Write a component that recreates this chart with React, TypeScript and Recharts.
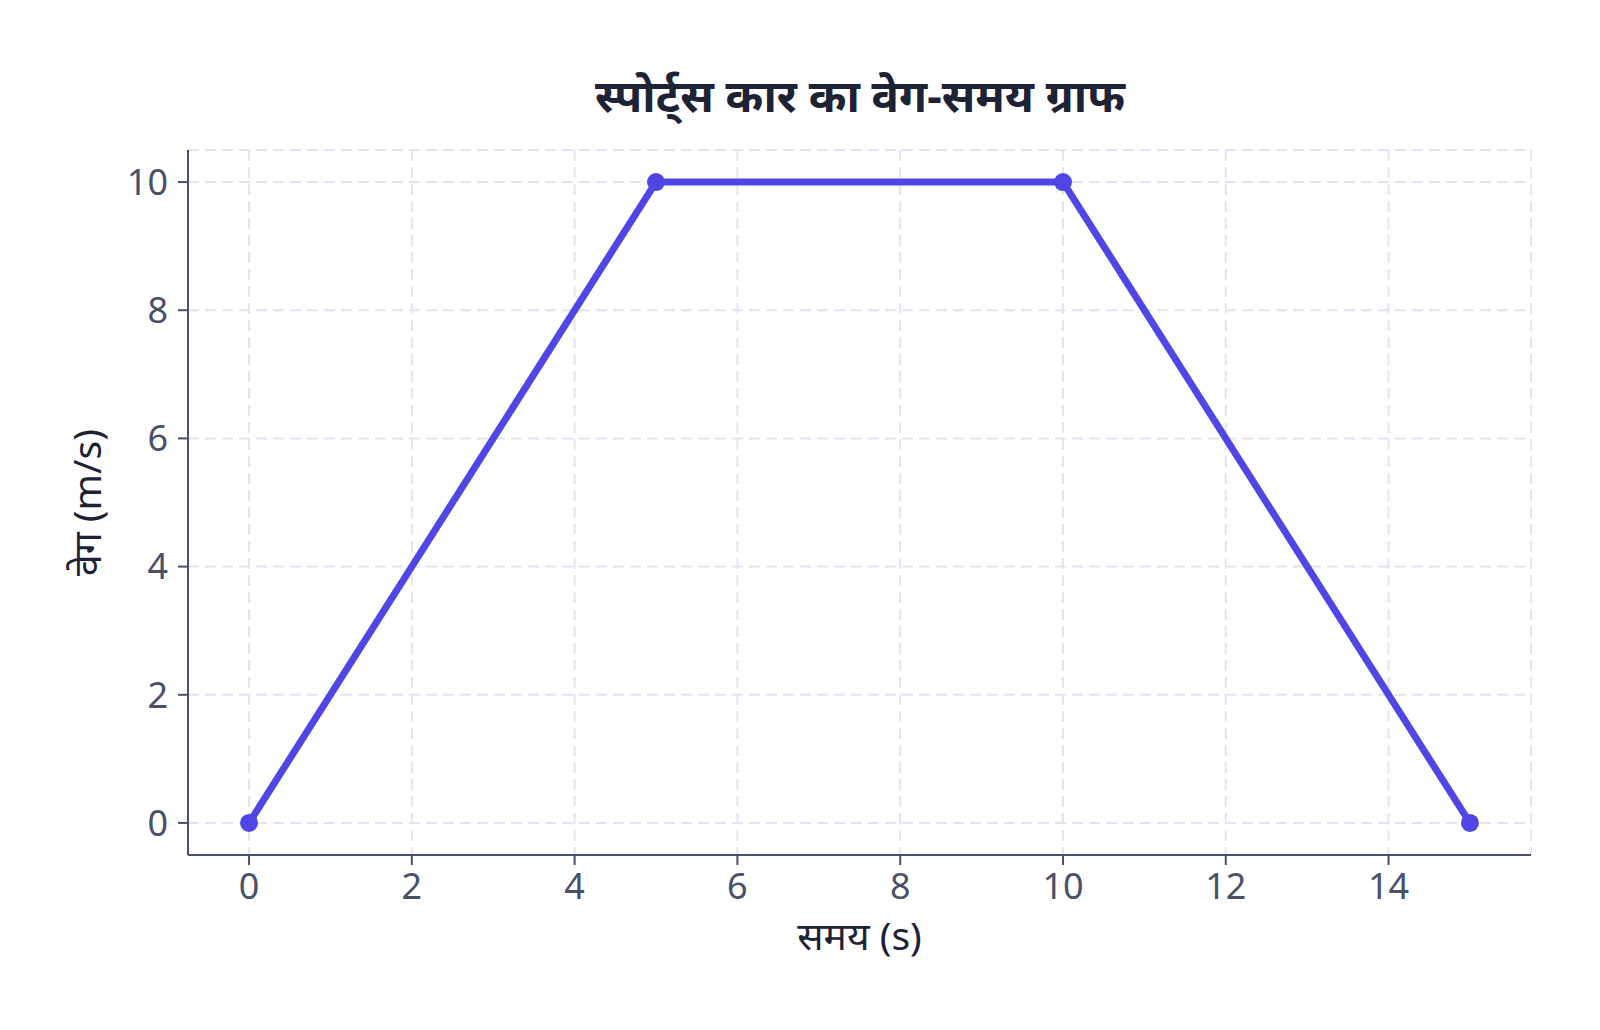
import React from 'react';
import { LineChart, Line, XAxis, YAxis, CartesianGrid, Label } from 'recharts';

// समय (s) और वेग (m/s)
const timeValues = [0, 5, 10, 15];
const velocityValues = [0, 10, 10, 0];
const xTicks = [0, 2, 4, 6, 8, 10, 12, 14];
const yTicks = [0, 2, 4, 6, 8, 10];

const data = timeValues.map((t, i) => ({ t, v: velocityValues[i] }));

const FONT = '"Noto Sans", "Noto Sans Devanagari", sans-serif';
const INK = '#4a5068';
const DARK = '#1e2235';
const LINE = '#4f46e5';

export default function App() {
  return (
    <div style={{ position: 'absolute', left: 0, top: 0, width: 1600, height: 1030, background: '#fff', fontFamily: FONT }}>
      <LineChart
        width={1600}
        height={1030}
        data={data}
        margin={{ top: 150, right: 69, bottom: 75, left: 108 }}
      >
        <text x={860} y={100} textAnchor="middle" dominantBaseline="middle" fontSize={45.5} fontWeight={700} fill={DARK} fontFamily={FONT}>
          स्पोर्ट्स कार का वेग-समय ग्राफ
        </text>
        <CartesianGrid stroke="#e3e4f2" strokeWidth={2} strokeDasharray="11 6" />
        <XAxis
          dataKey="t"
          type="number"
          domain={[-0.75, 15.75]}
          ticks={xTicks}
          allowDataOverflow
          height={100}
          stroke={INK}
          strokeWidth={2}
          tickSize={10}
          tick={{ fill: INK, fontSize: 36, fontFamily: FONT }}
          tickMargin={8}
        >
          <Label value="समय (s)" position="insideBottom" offset={5} fill={DARK} fontSize={39} fontFamily={FONT} />
        </XAxis>
        <YAxis
          type="number"
          domain={[-0.5, 10.5]}
          ticks={yTicks}
          allowDataOverflow
          width={80}
          stroke={INK}
          strokeWidth={2}
          tickSize={10}
          tick={{ fill: INK, fontSize: 36, fontFamily: FONT }}
          tickMargin={10}
        >
          <Label value="वेग (m/s)" angle={-90} position="left" offset={21} fill={DARK} fontSize={39} fontFamily={FONT} style={{ textAnchor: 'middle' }} />
        </YAxis>
        <Line
          type="linear"
          dataKey="v"
          stroke={LINE}
          strokeWidth={7}
          dot={{ r: 9, fill: LINE, stroke: LINE, strokeWidth: 0 }}
          activeDot={false}
          isAnimationActive={false}
        />
      </LineChart>
    </div>
  );
}
